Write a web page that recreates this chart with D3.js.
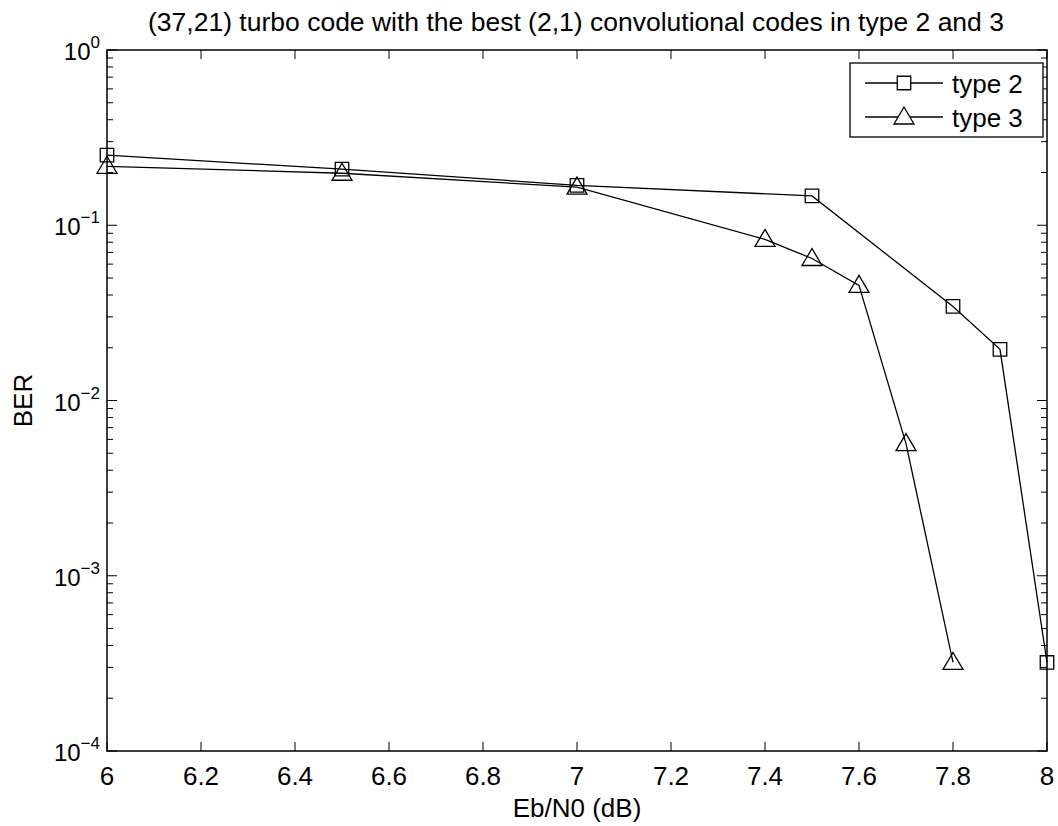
<!DOCTYPE html>
<html><head><meta charset="utf-8">
<script src="https://cdn.jsdelivr.net/npm/d3@7"></script>
<style>body{margin:0;background:#fff}svg{font-family:"Liberation Sans",Arial,sans-serif}</style>
</head><body>
<script>
const xType2 = [6, 6.5, 7, 7.5, 7.8, 7.9, 8];
const berType2 = [0.251, 0.209, 0.169, 0.147, 0.0344, 0.0196, 3.2e-4];
const xType3 = [6, 6.5, 7, 7.4, 7.5, 7.6, 7.7, 7.8];
const berType3 = [0.217, 0.198, 0.165, 0.083, 0.0646, 0.0454, 0.00568, 3.2e-4];
const xTicks = [6, 6.2, 6.4, 6.6, 6.8, 7, 7.2, 7.4, 7.6, 7.8, 8];
const yExponents = [0, -1, -2, -3, -4];
const seriesNames = ["type 2", "type 3"];

const W = 1058, H = 826;
const L = 107, R = 1047, T = 50, B = 751;
const svg = d3.select("body").append("svg").attr("width", W).attr("height", H);
const x = d3.scaleLinear().domain([6, 8]).range([L, R]);
const y = d3.scaleLog().domain([1e-4, 1]).range([B, T]);

// ticks
const g = svg.append("g").attr("stroke", "#000").attr("stroke-width", 1);
xTicks.forEach(v => {
  g.append("line").attr("x1", x(v)).attr("x2", x(v)).attr("y1", B).attr("y2", B - 9);
  g.append("line").attr("x1", x(v)).attr("x2", x(v)).attr("y1", T).attr("y2", T + 9);
});
const minor = [];
for (let e = -4; e < 0; e++) for (let m = 2; m <= 9; m++) minor.push(m * Math.pow(10, e));
minor.forEach(v => {
  g.append("line").attr("x1", L).attr("x2", L + 6).attr("y1", y(v)).attr("y2", y(v));
  g.append("line").attr("x1", R).attr("x2", R - 6).attr("y1", y(v)).attr("y2", y(v));
});
yExponents.forEach(e => {
  const v = Math.pow(10, e);
  g.append("line").attr("x1", L).attr("x2", L + 10).attr("y1", y(v)).attr("y2", y(v));
  g.append("line").attr("x1", R).attr("x2", R - 10).attr("y1", y(v)).attr("y2", y(v));
});
svg.append("rect").attr("x", L).attr("y", T).attr("width", R - L).attr("height", B - T)
  .attr("fill", "none").attr("stroke", "#000").attr("stroke-width", 1.5);

// tick labels
xTicks.forEach(v => {
  svg.append("text").attr("x", x(v)).attr("y", 785).attr("text-anchor", "middle")
    .attr("font-size", 26).text(d3.format("~g")(v));
});
yExponents.forEach(e => {
  const t = svg.append("text").attr("x", L - 7).attr("y", y(Math.pow(10, e)) + 10)
    .attr("text-anchor", "end").attr("font-size", 24);
  t.append("tspan").text("10");
  t.append("tspan").attr("dy", -12).attr("font-size", 17).text(e === 0 ? "0" : "\u2212" + (-e));
});

// labels
svg.append("text").attr("x", 576).attr("y", 31).attr("text-anchor", "middle")
  .attr("font-size", 26.5).text("(37,21) turbo code with the best (2,1) convolutional codes in type 2 and 3");
svg.append("text").attr("x", 577).attr("y", 817).attr("text-anchor", "middle")
  .attr("font-size", 26).text("Eb/N0 (dB)");
svg.append("text").attr("transform", `translate(32,${(T + B) / 2}) rotate(-90)`)
  .attr("text-anchor", "middle").attr("font-size", 26).text("BER");

// series
const line = d3.line().x(d => x(d[0])).y(d => y(d[1]));
const d2 = xType2.map((v, i) => [v, berType2[i]]);
const d3s = xType3.map((v, i) => [v, berType3[i]]);
const sq = d3.symbol().type(d3.symbolSquare).size(182);
const tri = (cx, cy) => `M${cx},${cy - 10}L${cx + 10},${cy + 7}L${cx - 10},${cy + 7}Z`;

svg.append("path").attr("d", line(d2)).attr("fill", "none").attr("stroke", "#000").attr("stroke-width", 1.3);
svg.append("path").attr("d", line(d3s)).attr("fill", "none").attr("stroke", "#000").attr("stroke-width", 1.3);
d2.forEach(d => svg.append("path").attr("d", sq()).attr("transform", `translate(${x(d[0])},${y(d[1])})`)
  .attr("fill", "none").attr("stroke", "#000").attr("stroke-width", 1.3));
d3s.forEach(d => svg.append("path").attr("d", tri(x(d[0]), y(d[1])))
  .attr("fill", "none").attr("stroke", "#000").attr("stroke-width", 1.3));

// legend
const lg = svg.append("g");
lg.append("rect").attr("x", 850).attr("y", 63).attr("width", 193).attr("height", 74)
  .attr("fill", "#fff").attr("stroke", "#000").attr("stroke-width", 1.3);
[83, 117].forEach((ly, i) => {
  lg.append("line").attr("x1", 865).attr("x2", 943).attr("y1", ly).attr("y2", ly).attr("stroke", "#000").attr("stroke-width", 1.3);
  if (i === 0) lg.append("path").attr("d", sq()).attr("transform", `translate(904,${ly})`).attr("fill", "#fff").attr("stroke", "#000").attr("stroke-width", 1.3);
  else lg.append("path").attr("d", tri(904, ly)).attr("fill", "#fff").attr("stroke", "#000").attr("stroke-width", 1.3);
  lg.append("text").attr("x", 952).attr("y", ly + 10).attr("font-size", 26).text(seriesNames[i]);
});
</script>
</body></html>
